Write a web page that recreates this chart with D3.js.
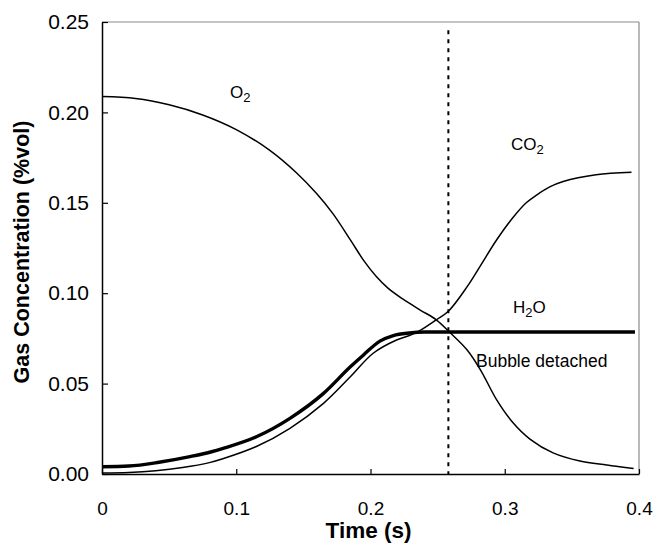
<!DOCTYPE html>
<html>
<head>
<meta charset="utf-8">
<script src="https://cdn.jsdelivr.net/npm/d3@7"></script>
<style>
  html, body { margin: 0; padding: 0; background: #fff; }
  svg { display: block; }
  text { font-family: "Liberation Sans", Arial, Helvetica, sans-serif; fill: #000; }
</style>
</head>
<body>
<svg id="chart" width="658" height="543"></svg>
<script>
// ---- data ----
const o2Time  = [0.000, 0.025, 0.050, 0.075, 0.100, 0.125, 0.145, 0.160, 0.172, 0.185, 0.195, 0.204, 0.213, 0.224, 0.237, 0.249, 0.259, 0.272, 0.282, 0.294, 0.306, 0.319, 0.336, 0.356, 0.376, 0.396];
const o2Value = [0.2088, 0.2077, 0.2042, 0.1986, 0.1905, 0.1790, 0.1665, 0.1550, 0.1440, 0.1295, 0.1180, 0.1095, 0.1028, 0.0968, 0.0907, 0.0853, 0.0784, 0.0686, 0.0575, 0.0410, 0.0285, 0.0192, 0.0117, 0.0072, 0.0050, 0.0031];

const co2Time  = [0.000, 0.020, 0.040, 0.060, 0.080, 0.090, 0.115, 0.140, 0.165, 0.185, 0.202, 0.2194, 0.229, 0.236, 0.249, 0.258, 0.272, 0.2815, 0.2939, 0.3063, 0.316, 0.3237, 0.3335, 0.3435, 0.368, 0.3944];
const co2Value = [0.0005, 0.0008, 0.0018, 0.0036, 0.0063, 0.0084, 0.0152, 0.0253, 0.0391, 0.0538, 0.0668, 0.0741, 0.0766, 0.0790, 0.0853, 0.0900, 0.1036, 0.1147, 0.1294, 0.1420, 0.1500, 0.1543, 0.1588, 0.1618, 0.1655, 0.1669];

const h2oTime  = [0.000, 0.020, 0.0425, 0.0655, 0.0816, 0.0903, 0.115, 0.140, 0.165, 0.185, 0.195, 0.207, 0.217, 0.229, 0.240, 0.397];
const h2oValue = [0.0040, 0.0044, 0.0065, 0.0096, 0.0123, 0.0142, 0.0206, 0.0308, 0.0446, 0.0593, 0.0660, 0.0735, 0.0766, 0.0780, 0.0785, 0.0785];

const detachTime = 0.258;
const detachTop = 0.2455;

const xTicks = [0, 0.1, 0.2, 0.3, 0.4];
const yTicks = [0.00, 0.05, 0.10, 0.15, 0.20, 0.25];
const xTitle = "Time (s)";
const yTitle = "Gas Concentration (%vol)";

// ---- layout ----
const W = 658, H = 543;
const margin = { left: 102, top: 22, right: 19, bottom: 69 };
const iw = W - margin.left - margin.right;
const ih = H - margin.top - margin.bottom;

const svg = d3.select("#chart");
const g = svg.append("g").attr("transform", `translate(${margin.left},${margin.top})`);

const x = d3.scaleLinear().domain([0, 0.4]).range([0, iw]);
const y = d3.scaleLinear().domain([0, 0.25]).range([ih, 0]);

// frame (top & right, grey)
g.append("line").attr("x1", 0).attr("x2", iw).attr("y1", 0).attr("y2", 0)
  .attr("stroke", "#8a8a8a").attr("stroke-width", 1.2);
g.append("line").attr("x1", iw).attr("x2", iw).attr("y1", 0).attr("y2", ih)
  .attr("stroke", "#8a8a8a").attr("stroke-width", 1.2);

// axes
const yAxis = d3.axisLeft(y).tickValues(yTicks).tickFormat(d3.format(".2f"))
  .tickSizeInner(-6).tickSizeOuter(0).tickPadding(13);
const xAxis = d3.axisBottom(x).tickValues(xTicks)
  .tickFormat(d => d === 0 ? "0" : d3.format(".1f")(d))
  .tickSizeInner(-5).tickSizeOuter(0).tickPadding(28);

const gy = g.append("g").call(yAxis);
gy.attr("font-family", null).attr("font-size", null);
gy.select(".domain").attr("stroke", "#000").attr("stroke-width", 1.5);
gy.selectAll(".tick line").attr("stroke", "#000").attr("stroke-width", 1.2);
gy.selectAll(".tick text").style("font-size", "21px");

const gx = g.append("g").attr("transform", `translate(0,${ih})`).call(xAxis);
gx.attr("font-family", null).attr("font-size", null);
gx.select(".domain").attr("stroke", "#000").attr("stroke-width", 1.5);
gx.selectAll(".tick line").attr("stroke", "#000").attr("stroke-width", 1.2);
gx.selectAll(".tick text").style("font-size", "19px");

// axis titles
svg.append("text")
  .attr("transform", `translate(29,${margin.top + ih / 2 + 4}) rotate(-90)`)
  .attr("text-anchor", "middle")
  .style("font-size", "21.5px").style("font-weight", "bold")
  .text(yTitle);
svg.append("text")
  .attr("x", margin.left + x(0.2) - 2).attr("y", 538)
  .attr("text-anchor", "middle")
  .style("font-size", "22.5px").style("font-weight", "bold")
  .text(xTitle);

// lines
const toPts = (ts, vs) => ts.map((t, i) => [t, vs[i]]);
const smooth = d3.line().x(d => x(d[0])).y(d => y(d[1])).curve(d3.curveCatmullRom.alpha(0.5));
const mono = d3.line().x(d => x(d[0])).y(d => y(d[1])).curve(d3.curveMonotoneX);

g.append("path").datum(toPts(h2oTime, h2oValue))
  .attr("d", mono).attr("fill", "none").attr("stroke", "#000").attr("stroke-width", 3.4);
g.append("path").datum(toPts(co2Time, co2Value))
  .attr("d", smooth).attr("fill", "none").attr("stroke", "#000").attr("stroke-width", 1.5);
g.append("path").datum(toPts(o2Time, o2Value))
  .attr("d", smooth).attr("fill", "none").attr("stroke", "#000").attr("stroke-width", 1.5);

// detachment marker
g.append("line")
  .attr("x1", x(detachTime)).attr("x2", x(detachTime))
  .attr("y1", y(detachTop)).attr("y2", y(0))
  .attr("stroke", "#000").attr("stroke-width", 2).attr("stroke-dasharray", "4,5");

// annotations
function chem(xp, yp, parts) {
  const t = svg.append("text").attr("x", xp).attr("y", yp).style("font-size", "17px");
  parts.forEach(p => {
    if (p.sub) {
      t.append("tspan").attr("dy", 4).style("font-size", "13px").text(p.s);
    } else {
      t.append("tspan").attr("dy", p.back ? -4 : 0).text(p.s);
    }
  });
  return t;
}
chem(230, 98, [{ s: "O" }, { s: "2", sub: true }]);
chem(511, 150, [{ s: "CO" }, { s: "2", sub: true }]);
chem(513, 313, [{ s: "H" }, { s: "2", sub: true }, { s: "O", back: true }]);
svg.append("text").attr("x", 476).attr("y", 367).style("font-size", "17.5px").text("Bubble detached");
</script>
</body>
</html>
